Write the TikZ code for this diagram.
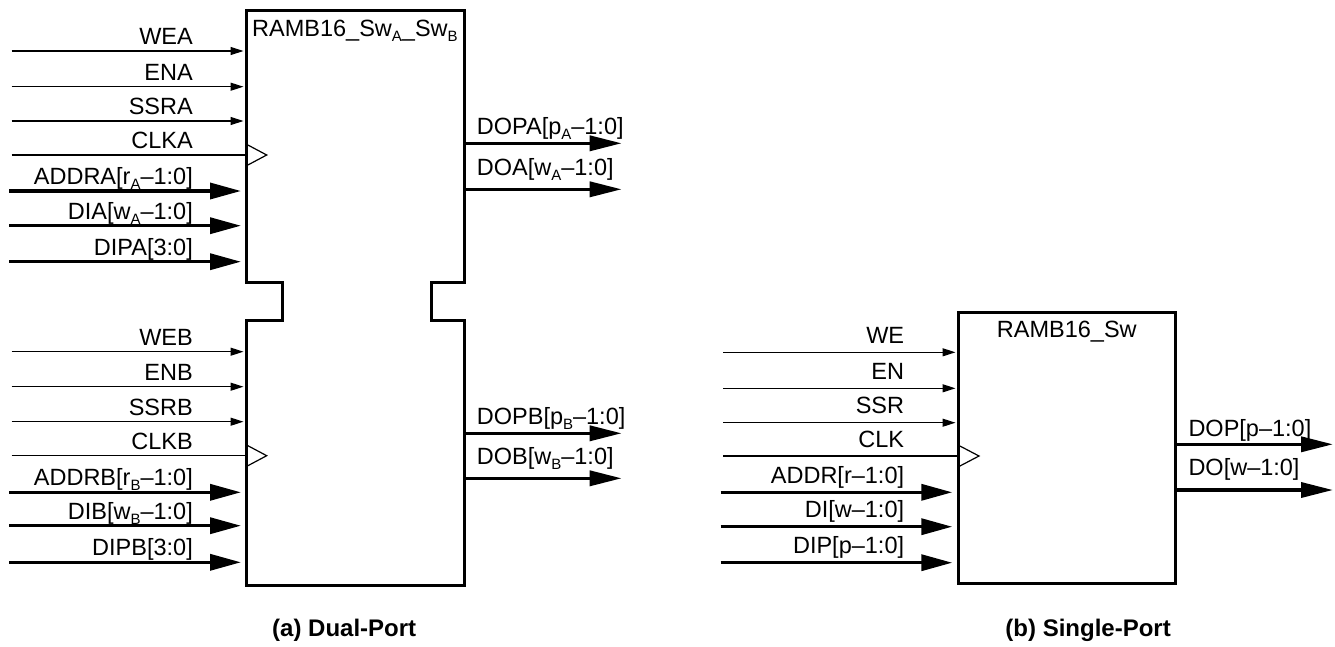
\documentclass[tikz,border=0pt]{standalone}
\usepackage{fontspec}
\setmainfont{Liberation Sans}
\usetikzlibrary{arrows.meta,calc}
\newcommand\lsub[1]{\raisebox{-5pt}{\fontsize{15}{15}\selectfont #1}}
\begin{document}
\begin{tikzpicture}[x=1pt,y=-1pt,
  sig/.style={line width=1.2pt,-{Triangle[length=13pt,width=8pt]}},
  bus/.style={line width=3.5pt,-{Triangle[length=31pt,width=16pt]}},
  clkline/.style={line width=1.2pt},
  blk/.style={line width=3pt},
  lbl/.style={anchor=base east,inner sep=0pt,font=\fontsize{23.5}{28}\selectfont},
  lblw/.style={anchor=base west,inner sep=0pt,font=\fontsize{23.5}{28}\selectfont},
  captxt/.style={inner sep=0pt,font=\bfseries\fontsize{24}{28}\selectfont}]
\useasboundingbox (0,0) rectangle (1335,646);

% ---------- dual-port block ----------
\draw[blk] (246,10) -- (464,10) -- (464,282) -- (431,282) -- (431,320) -- (464,320)
  -- (464,585) -- (246,585) -- (246,320) -- (282,320) -- (282,282) -- (246,282) -- cycle;
\node[lblw] (tA) at (252,36) {RAMB16\_Sw\lsub{A}\_Sw\lsub{B}};

% thin inputs
\foreach \y/\t [count=\i] in {51/WEA,86.7/ENA,121/SSRA,351.7/WEB,386.7/ENB,421.7/SSRB}{
  \coordinate (ds\i) at (11.7,\y);
  \coordinate (de\i) at (243.5,\y);
  \draw[sig] (ds\i) -- (de\i);
  \node[lbl] (dl\i) at (193,\y-6.5) {\t};
}
% clocks
\foreach \y/\t [count=\i] in {155/CLKA,455.7/CLKB}{
  \coordinate (cs\i) at (11.7,\y);
  \coordinate (ce\i) at (246,\y);
  \coordinate (ct\i) at (266.7,\y);
  \draw[clkline] (cs\i) -- (ce\i);
  \draw[clkline] ($(ce\i)+(0,-11)$) -- (ct\i) -- ($(ce\i)+(0,11)$);
  \node[lbl] (cl\i) at (193,\y-6.5) {\t};
}
% bus inputs
\foreach \y/\t [count=\i] in {191/{ADDRA[r\lsub{A}–1:0]},225.7/{DIA[w\lsub{A}–1:0]},261.7/{DIPA[3:0]},
  492.3/{ADDRB[r\lsub{B}–1:0]},525.7/{DIB[w\lsub{B}–1:0]},562.3/{DIPB[3:0]}}{
  \coordinate (bs\i) at (9,\y);
  \coordinate (be\i) at (241,\y);
  \draw[bus] (bs\i) -- (be\i);
  \node[lbl] (bl\i) at (193,\y-6.5) {\t};
}
% outputs
\foreach \y/\d/\t [count=\i] in {143.3/9/{DOPA[p\lsub{A}–1:0]},189.3/13.5/{DOA[w\lsub{A}–1:0]},
  433.3/9/{DOPB[p\lsub{B}–1:0]},478.3/13.5/{DOB[w\lsub{B}–1:0]}}{
  \coordinate (os\i) at (464,\y);
  \coordinate (oe\i) at (621.7,\y);
  \draw[bus,-{Triangle[length=32pt,width=15pt]}] (os\i) -- (oe\i);
  \node[lblw] (ol\i) at (476.7,\y-\d) {\t};
}

% ---------- single-port block ----------
\draw[blk] (958,312) rectangle (1175,583);
\node[lblw] (tS) at (996.7,337.3) {RAMB16\_Sw};
\foreach \y/\t [count=\i] in {352.3/WE,388.3/EN,422.7/SSR}{
  \coordinate (ss\i) at (723.3,\y);
  \coordinate (se\i) at (955.5,\y);
  \draw[sig] (ss\i) -- (se\i);
  \node[lbl] (sl\i) at (904.3,\y-9) {\t};
}
\coordinate (scs) at (723.3,456);
\coordinate (sce) at (958,456);
\coordinate (sct) at (979,456);
\draw[clkline] (scs) -- (sce);
\draw[clkline] ($(sce)+(0,-11)$) -- (sct) -- ($(sce)+(0,11)$);
\node[lbl] (scl) at (904.3,447) {CLK};
\foreach \y/\t [count=\i] in {492.3/{ADDR[r–1:0]},526.7/{DI[w–1:0]},562.7/{DIP[p–1:0]}}{
  \coordinate (sbs\i) at (720.7,\y);
  \coordinate (sbe\i) at (952.3,\y);
  \draw[bus] (sbs\i) -- (sbe\i);
  \node[lbl] (sbl\i) at (904.3,\y-9) {\t};
}
\foreach \y/\d/\t [count=\i] in {444.3/8.3/{DOP[p–1:0]},490/14.5/{DO[w–1:0]}}{
  \coordinate (sos\i) at (1175,\y);
  \coordinate (soe\i) at (1333,\y);
  \draw[bus,-{Triangle[length=32pt,width=15pt]}] (sos\i) -- (soe\i);
  \node[lblw] (sol\i) at (1188.3,\y-\d) {\t};
}

% captions
\node[captxt,anchor=base west] (capa) at (272,636) {(a) Dual-Port};
\node[captxt,anchor=base east] (capb) at (1171,636) {(b) Single-Port};
\end{tikzpicture}
\end{document}
